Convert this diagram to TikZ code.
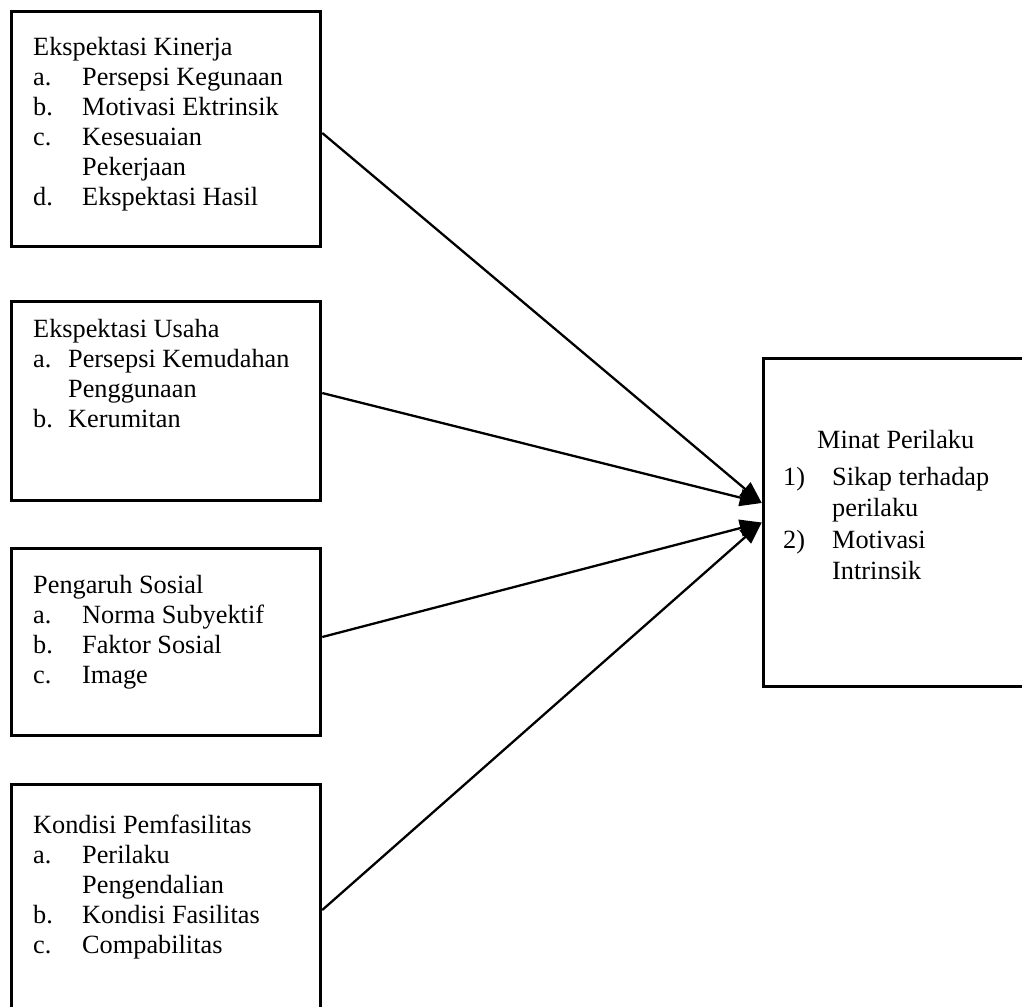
\documentclass[tikz,border=0pt]{standalone}
\usepackage{fontspec}
\setmainfont{Liberation Serif}
\usetikzlibrary{arrows.meta}

\newcommand{\itemlbl}[1]{\makebox[49pt][l]{#1}}
\newcommand{\shortlbl}[1]{\makebox[35pt][l]{#1}}

\begin{document}
\begin{tikzpicture}[x=1pt,y=-1pt]
    \tikzstyle{box}=[draw,line width=3.5pt,inner sep=0pt]
    \tikzstyle{txt}=[anchor=north west,inner sep=0pt,align=left,font=\fontsize{26.3}{30}\selectfont]
    \tikzstyle{arr}=[line width=2.3pt,-{Triangle[length=22pt,width=17pt]}]
    \clip (0,0) rectangle (1022,1006);

    \node[box,minimum width=309pt,minimum height=235pt] (kinerja) at (166,129) {};
    \node[box,minimum width=309pt,minimum height=199pt] (usaha) at (166,401) {};
    \node[box,minimum width=309pt,minimum height=187pt] (sosial) at (166,642) {};
    \node[box,minimum width=309pt,minimum height=245pt] (fasilitas) at (166,907) {};
    \node[box,minimum width=277pt,minimum height=328pt] (minat) at (902,522.5) {};

    \node[txt] (kinerjatxt) at (33,34) {\strut Ekspektasi Kinerja\\
      \itemlbl{a.}Persepsi Kegunaan\\ \itemlbl{b.}Motivasi Ektrinsik\\
      \itemlbl{c.}Kesesuaian\\ \itemlbl{}Pekerjaan\\ \itemlbl{d.}Ekspektasi Hasil};
    \node[txt] (usahatxt) at (33,316) {\strut Ekspektasi Usaha\\
      \shortlbl{a.}Persepsi Kemudahan\\ \shortlbl{}Penggunaan\\ \shortlbl{b.}Kerumitan};
    \node[txt] (sosialtxt) at (33,572) {\strut Pengaruh Sosial\\
      \itemlbl{a.}Norma Subyektif\\ \itemlbl{b.}Faktor Sosial\\ \itemlbl{c.}Image};
    \node[txt] (fasilitastxt) at (33,812) {\strut Kondisi Pemfasilitas\\
      \itemlbl{a.}Perilaku\\ \itemlbl{}Pengendalian\\
      \itemlbl{b.}Kondisi Fasilitas\\ \itemlbl{c.}Compabilitas};
    \node[txt,font=\fontsize{26.3}{31.3}\selectfont] (minattxt) at (783,426)
      {\strut\hspace*{34pt}Minat Perilaku\\[6pt]
      \itemlbl{1)}Sikap terhadap\\ \itemlbl{}perilaku\\
      \itemlbl{2)}Motivasi\\ \itemlbl{}Intrinsik};

    \draw[arr] ([yshift=-4pt]kinerja.east) -- ([yshift=19.5pt]minat.west);
    \draw[arr] ([yshift=8pt]usaha.east) -- ([yshift=19.5pt]minat.west);
    \draw[arr] ([yshift=5pt]sosial.east) -- ([yshift=0pt]minat.west);
    \draw[arr] ([yshift=-3pt]fasilitas.east) -- ([yshift=0pt]minat.west);
\end{tikzpicture}
\end{document}
